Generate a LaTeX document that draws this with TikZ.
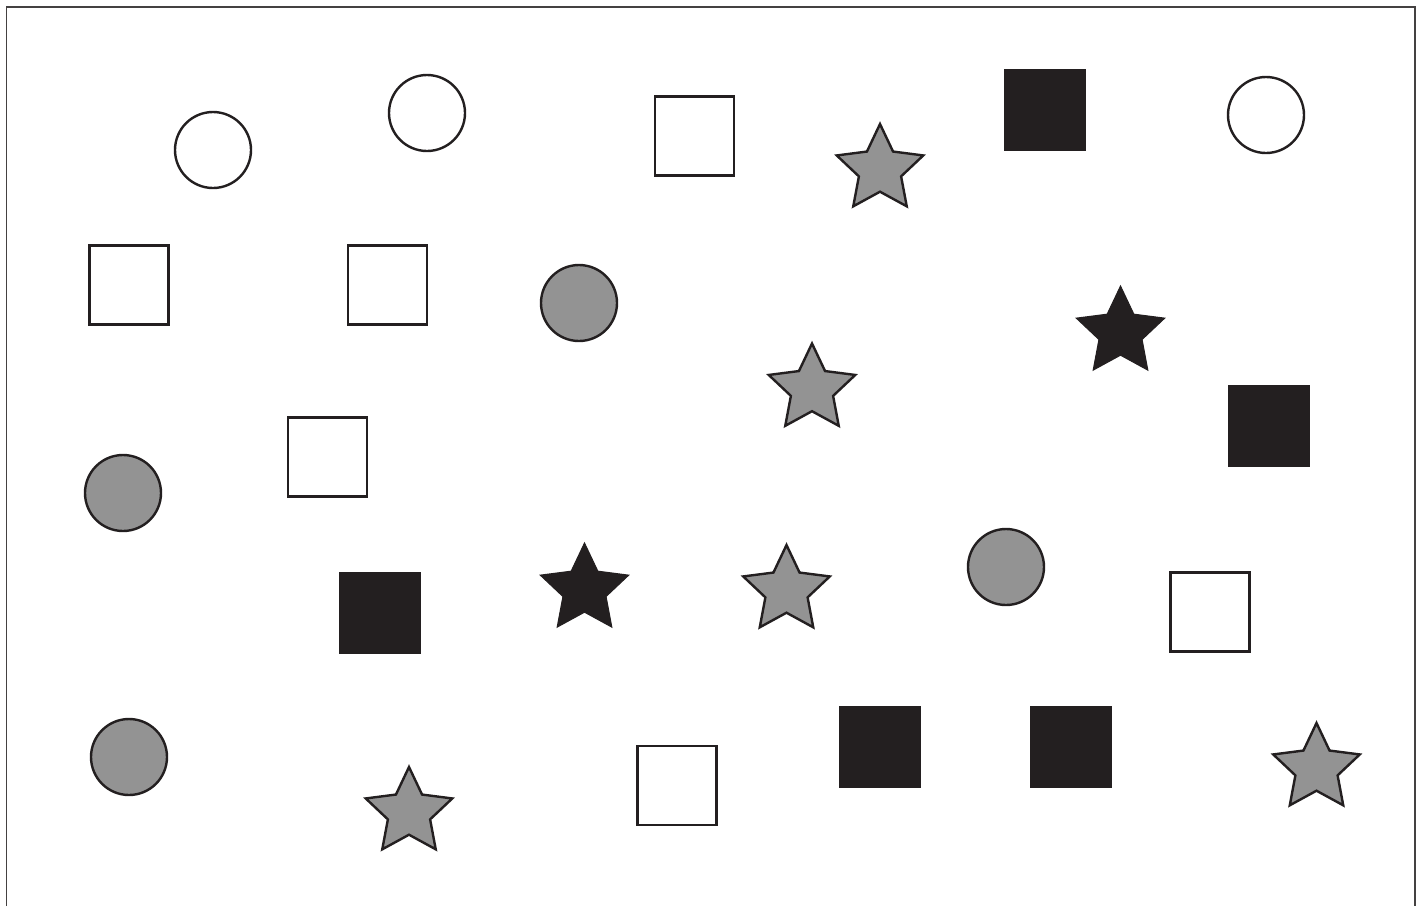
\documentclass[tikz,border=0pt]{standalone}
\usetikzlibrary{shapes.geometric}
\definecolor{ink}{HTML}{231F20}
\definecolor{mid}{HTML}{939393}
\tikzset{
  x=1pt,y=-1pt,
  shp/.style={draw=ink,line width=2.4pt,inner sep=0pt,outer sep=0pt},
  wcirc/.style={shp,circle,fill=white,minimum size=76pt},
  gcirc/.style={shp,circle,fill=mid,minimum size=76pt},
  wsq/.style={shp,rectangle,fill=white,minimum size=79pt},
  bsq/.style={shp,rectangle,fill=ink,line width=1pt,minimum size=81pt},
  gstar/.style={shp,star,star points=5,star point ratio=2.05,fill=mid,minimum size=91pt},
  bstar/.style={gstar,fill=ink,line width=1pt,minimum size=93pt},
  frame/.style={draw=ink!85,line width=1.6pt}
}
\begin{document}
\begin{tikzpicture}
\useasboundingbox (0,0) rectangle (1422,906);
\fill[white] (0,0) rectangle (1422,906);
\draw[frame] (6.5,906) -- (6.5,7) -- (1415,7) -- (1415,906);
% circles
\node[wcirc] (c1) at (213,150) {};
\node[wcirc] (c2) at (427,113) {};
\node[wcirc] (c3) at (1266,115) {};
\node[gcirc] (c4) at (579,303) {};
\node[gcirc] (c5) at (123,493) {};
\node[gcirc] (c6) at (1006,567) {};
\node[gcirc] (c7) at (129,757) {};
% squares
\node[wsq] (s1) at (694.5,136) {};
\node[bsq] (s2) at (1045,109.5) {};
\node[wsq] (s3) at (129,285) {};
\node[wsq] (s4) at (387.5,285) {};
\node[bsq] (s5) at (1269,426) {};
\node[wsq] (s6) at (327.5,457) {};
\node[bsq] (s7) at (380,612.5) {};
\node[wsq] (s8) at (1210,612) {};
\node[wsq] (s9) at (677,785.5) {};
\node[bsq] (s10) at (880,746.5) {};
\node[bsq] (s11) at (1071,746.5) {};
% stars
\node[gstar] (t1) at (880,169.5) {};
\node[bstar] (t2) at (1120.5,332.5) {};
\node[gstar] (t3) at (812,389) {};
\node[bstar] (t4) at (584.5,589.5) {};
\node[gstar] (t5) at (786.5,590.5) {};
\node[gstar] (t6) at (409,812.5) {};
\node[gstar] (t7) at (1316.5,768.5) {};
\end{tikzpicture}
\end{document}
